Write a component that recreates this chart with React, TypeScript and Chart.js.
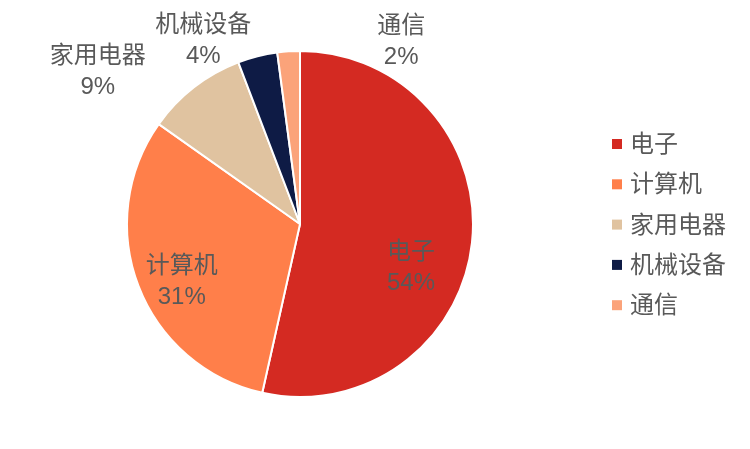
import React, { useEffect, useRef } from "react";
import { Chart, registerables } from "chart.js";

Chart.register(...registerables);

const categories = ["电子", "计算机", "家用电器", "机械设备", "通信"];
const shares = [53.5, 31.3, 9.4, 3.7, 2.1];
const colors = ["#D42A22", "#FF7F4A", "#E0C3A0", "#0E1B45", "#FBA37A"];
// label placement: fraction of radius, angle nudge (deg) from slice middle
const labelRadius = [0.689, 0.76, 1.465, 1.197, 1.209];
const labelShift = [15.1, -4.9, -15.1, -13.6, 32.7];

const FONT = '"Liberation Sans", "Noto Sans CJK SC", sans-serif';
const TEXT = "#595959";

const pieLabels = {
   id: "pieLabels",
   afterDatasetsDraw(chart: any) {
      const ctx = chart.ctx;
      const meta = chart.getDatasetMeta(0);
      ctx.save();
      ctx.font = `24px ${FONT}`;
      ctx.fillStyle = TEXT;
      ctx.textAlign = "center";
      ctx.textBaseline = "middle";
      meta.data.forEach((arc: any, i: number) => {
         const mid = (arc.startAngle + arc.endAngle) / 2 + (labelShift[i] * Math.PI) / 180;
         const r = arc.outerRadius * labelRadius[i];
         const x = arc.x + Math.cos(mid) * r;
         const y = arc.y + Math.sin(mid) * r;
         ctx.fillText(categories[i], x, y - 15);
         ctx.fillText(Math.round(shares[i]) + "%", x, y + 16);
      });
      ctx.restore();
   },
};

const sideLegend = {
   id: "sideLegend",
   afterDraw(chart: any) {
      const ctx = chart.ctx;
      ctx.save();
      ctx.font = `24px ${FONT}`;
      ctx.textBaseline = "middle";
      ctx.textAlign = "left";
      categories.forEach((c, i) => {
         const y = 144 + i * 40.3;
         ctx.fillStyle = colors[i];
         ctx.fillRect(612, y - 5, 10, 10);
         ctx.fillStyle = TEXT;
         ctx.fillText(c, 630, y + 1.5);
      });
      ctx.restore();
   },
};

const App = () => {
   const chartRef = useRef<HTMLCanvasElement | null>(null);

   useEffect(() => {
      if (!chartRef.current) return;
      const chart = new Chart(chartRef.current, {
         type: "pie",
         data: {
            labels: categories,
            datasets: [
               {
                  data: shares,
                  backgroundColor: colors,
                  borderColor: "#ffffff",
                  borderWidth: 2,
               },
            ],
         },
         options: {
            animation: false,
            responsive: false,
            layout: { padding: { left: 126, right: 276, top: 50, bottom: 51 } },
            plugins: {
               legend: { display: false },
               tooltip: { enabled: false },
            },
         },
         plugins: [pieLabels, sideLegend],
      });
      return () => {
         chart.destroy();
      };
   }, []);

   return (
      <div style={{ position: "fixed", left: 0, top: 0, width: 750, height: 449, background: "#fff" }}>
         <canvas ref={chartRef} width={750} height={449} />
      </div>
   );
};

export default App;
